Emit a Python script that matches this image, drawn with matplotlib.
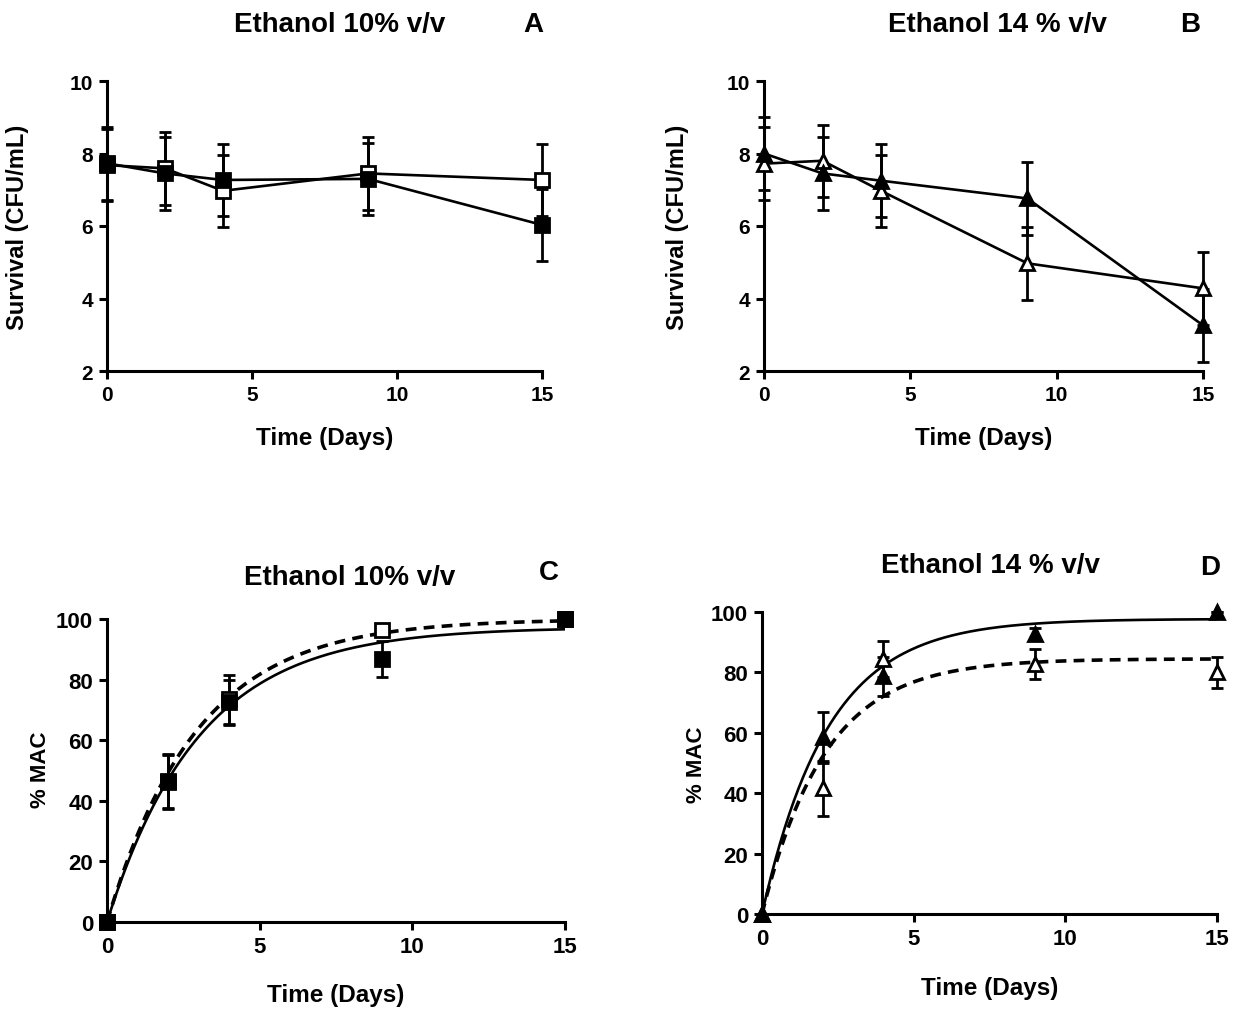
"""Four-panel ethanol survival / %MAC figure (GraphPad look) redrawn with matplotlib."""

import numpy as np
import matplotlib

matplotlib.use("Agg")
import matplotlib.pyplot as plt
from matplotlib import font_manager

W, H = 1238, 1012

installed = {f.name for f in font_manager.fontManager.ttflist}
SANS = "Liberation Sans" if "Liberation Sans" in installed else "DejaVu Sans"
NARROW = "Liberation Sans Narrow" if "Liberation Sans Narrow" in installed else SANS
plt.rcParams["font.family"] = [SANS, "DejaVu Sans"]

# --- data ---------------------------------------------------------------
days = [0, 2, 4, 9, 15]

# A: ethanol 10 %, survival (log CFU/mL)
a_filled = [7.73, 7.45, 7.27, 7.30, 6.03]
a_filled_err = [1.0, 1.0, 1.0, 1.0, 1.0]
a_open = [7.68, 7.59, 6.97, 7.45, 7.27]
a_open_err = [1.0, 1.0, 1.0, 1.0, 1.0]

# B: ethanol 14 %, survival (log CFU/mL)
b_filled = [8.0, 7.45, 7.25, 6.76, 3.26]
b_filled_err = [1.0, 1.0, 1.0, 1.0, 1.0]
b_open = [7.72, 7.80, 6.97, 4.97, 4.28]
b_open_err = [1.0, 1.0, 1.0, 1.0, 1.0]

# C: ethanol 10 %, % MAC
c_filled = [0, 46.2, 72.5, 86.8, 100]
c_filled_err = [0, 9.0, 7.5, 6.0, 0]
c_open = [0, 46.5, 73.5, 96.5, 100]
c_open_err = [0, 9.0, 8.0, 0, 0]

# D: ethanol 14 %, % MAC
d_filled = [0, 58.5, 78.7, 92.7, 100]
d_filled_err = [0, 8.5, 6.5, 2.0, 0]
d_open = [0, 41.6, 84.4, 82.7, 80.0]
d_open_err = [0, 9.0, 6.0, 5.0, 5.0]

# one-phase association fits: Y = plateau * (1 - exp(-k t))
c_fit_plateau = [97.3, 100.0]   # solid (filled), dashed (open)
c_fit_k = [0.33, 0.34]
d_fit_plateau = [97.7, 84.5]
d_fit_k = [0.46, 0.48]

LABEL_FS = 17.5
TITLE_FS = 20


def rect(left, top, right, bottom):
    return [left / W, 1 - bottom / H, (right - left) / W, (bottom - top) / H]


def style_axes(ax, ylim, yticks, tick_fs):
    ax.set_xlim(0, 15)
    ax.set_ylim(*ylim)
    ax.set_xticks([0, 5, 10, 15])
    ax.set_yticks(yticks)
    for s in ("top", "right"):
        ax.spines[s].set_visible(False)
    for s in ("left", "bottom"):
        ax.spines[s].set_linewidth(2.2)
    ax.tick_params(direction="out", length=6, width=2.2, pad=4, labelsize=tick_fs)
    for lab in ax.get_xticklabels() + ax.get_yticklabels():
        lab.set_fontweight("bold")


def series(ax, y, err, marker, filled, line=True):
    ax.errorbar(days, y, yerr=err, fmt=marker, ls="-" if line else "none",
                color="black", lw=1.9, ms=9.5, mew=2.0,
                mfc="black" if filled else "white", mec="black",
                elinewidth=2.0, capsize=4.5, capthick=2.0, clip_on=False, zorder=3)


fig = plt.figure(figsize=(W / 100, H / 100), dpi=100)

axA = fig.add_axes(rect(107, 82, 542, 372))
axB = fig.add_axes(rect(764, 82, 1203, 372))
axC = fig.add_axes(rect(107, 620, 565, 923))
axD = fig.add_axes(rect(762, 613, 1217, 915))

# --- A / B --------------------------------------------------------------
series(axA, a_open, a_open_err, "s", False)
series(axA, a_filled, a_filled_err, "s", True)
series(axB, b_open, b_open_err, "^", False)
series(axB, b_filled, b_filled_err, "^", True)

for ax in (axA, axB):
    style_axes(ax, (2, 10), [2, 4, 6, 8, 10], 15)
    ax.set_xlabel("Time (Days)", fontsize=LABEL_FS, fontweight="bold",
                  family=[NARROW, SANS], va="center")
    ax.set_ylabel("Survival (CFU/mL)", fontsize=17, fontweight="bold", va="center")
axA.xaxis.set_label_coords(0.5, -0.228)
axB.xaxis.set_label_coords(0.5, -0.228)
axA.yaxis.set_label_coords(-0.205, 0.5)
axB.yaxis.set_label_coords(-0.198, 0.5)

# --- C / D --------------------------------------------------------------
t = np.linspace(0, 15, 200)
for ax, plateau, k in ((axC, c_fit_plateau, c_fit_k), (axD, d_fit_plateau, d_fit_k)):
    ax.plot(t, plateau[0] * (1 - np.exp(-k[0] * t)), color="black", lw=1.9, zorder=2)
    ax.plot(t, plateau[1] * (1 - np.exp(-k[1] * t)), color="black", lw=2.6,
            dashes=(3, 2), zorder=2)

series(axC, c_open, c_open_err, "s", False, line=False)
series(axC, c_filled, c_filled_err, "s", True, line=False)
series(axD, d_open, d_open_err, "^", False, line=False)
series(axD, d_filled, d_filled_err, "^", True, line=False)

for ax in (axC, axD):
    style_axes(ax, (0, 100), [0, 20, 40, 60, 80, 100], 16)
    ax.set_xlabel("Time (Days)", fontsize=LABEL_FS, fontweight="bold",
                  family=[NARROW, SANS], va="center")
    ax.set_ylabel("% MAC", fontsize=16, fontweight="bold", va="center")
axC.xaxis.set_label_coords(0.5, -0.238)
axD.xaxis.set_label_coords(0.5, -0.242)
axC.yaxis.set_label_coords(-0.146, 0.505)
axD.yaxis.set_label_coords(-0.143, 0.497)

# --- titles and panel letters ------------------------------------------
for x, y, s in ((340, 25, "Ethanol 10% v/v"), (997, 25, "Ethanol 14 % v/v"),
                (350, 578, "Ethanol 10% v/v"), (990, 566, "Ethanol 14 % v/v")):
    fig.text(x / W, 1 - y / H, s, ha="center", va="center",
             fontsize=TITLE_FS, fontweight="bold")
for x, y, s in ((533, 25, "A"), (1190, 25, "B"), (549, 573, "C"), (1210, 568, "D")):
    fig.text(x / W, 1 - y / H, s, ha="center", va="center",
             fontsize=TITLE_FS, fontweight="bold")

fig.savefig("out.png", dpi=100, facecolor="white")
